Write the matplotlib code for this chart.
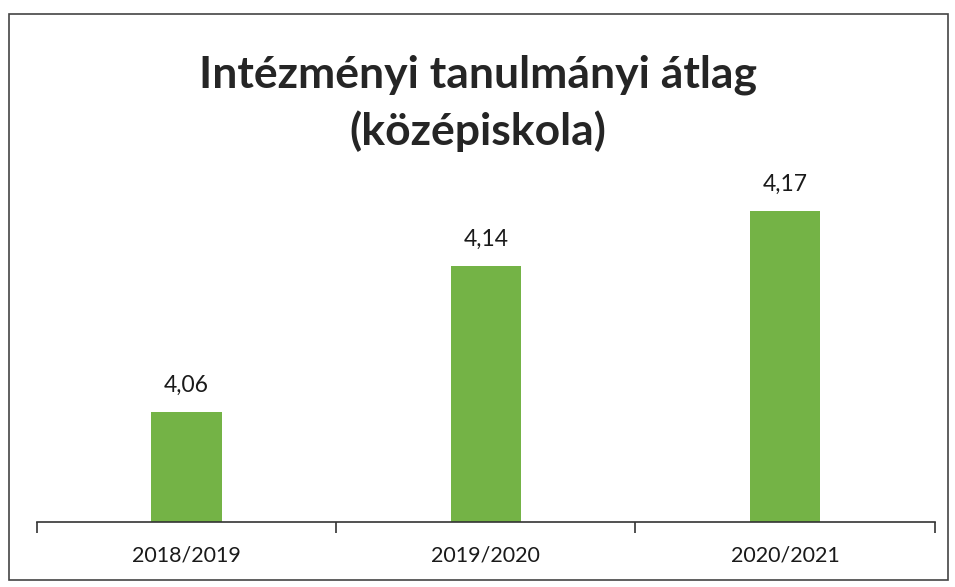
import matplotlib
matplotlib.use("Agg")
import matplotlib.pyplot as plt
from matplotlib.patches import Rectangle

categories = ["2018/2019", "2019/2020", "2020/2021"]
values = [4.06, 4.14, 4.17]
value_labels = ["4,06", "4,14", "4,17"]
title_line1 = "Intézményi tanulmányi átlag"
title_line2 = "(középiskola)"

plt.rcParams['font.family'] = ['Lato', 'DejaVu Sans']

fig = plt.figure(figsize=(9.55, 5.87), dpi=100)
ax = fig.add_axes([0.0387, 0.111, 0.94, 0.623])

x = range(len(categories))
ax.bar(x, values, width=0.235, color="#74B346", zorder=2)
ax.set_ylim(4.0, 4.2)
ax.set_xlim(-0.5, 2.5)

for xi, v, lab in zip(x, values, value_labels):
    ax.text(xi, v + 0.009, lab, ha="center", va="bottom", fontsize=16.5, color="#1a1a1a")

for s in ["top", "right", "left"]:
    ax.spines[s].set_visible(False)
ax.spines["bottom"].set_color("#333333")
ax.spines["bottom"].set_linewidth(1.2)
ax.set_yticks([])
ax.set_xticks([-0.5, 0.5, 1.5, 2.5])
ax.set_xticklabels([])
ax.set_xticks(list(x), minor=True)
ax.set_xticklabels(categories, minor=True, fontsize=15.5, color="#1a1a1a")
ax.tick_params(axis="x", which="major", length=8, width=1.2, color="#333333", direction="out")
ax.tick_params(axis="x", which="minor", length=0, pad=17)

fig.text(0.5, 0.872, title_line1, ha="center", va="center",
         fontsize=32, fontweight="bold", color="#252525")
fig.text(0.5, 0.776, title_line2, ha="center", va="center",
         fontsize=32, fontweight="bold", color="#252525")

fig.patches.append(Rectangle((0.009, 0.012), 0.984, 0.965, transform=fig.transFigure,
                             fill=False, edgecolor="#444444", linewidth=1.2))

fig.savefig("out.png", dpi=100)
